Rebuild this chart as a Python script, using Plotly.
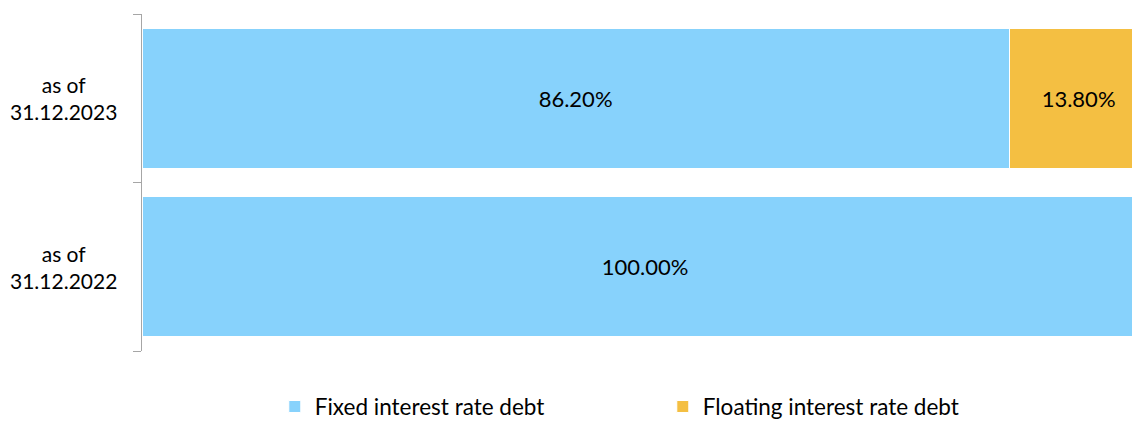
import plotly.graph_objects as go

categories = ["as of<br>31.12.2022", "as of<br>31.12.2023"]
fixed_rate = [100.0, 86.2]
floating_rate = [None, 13.8]
series_names = ["Fixed interest rate debt", "Floating interest rate debt"]
colors = ["#87D2FC", "#F4BF42"]

FONT = "Lato"

fig = go.Figure()
for name, vals, col in zip(series_names, [fixed_rate, floating_rate], colors):
    fig.add_trace(go.Bar(
        y=categories, x=vals, name=name, orientation="h",
        marker=dict(color=col, line=dict(color="white", width=1)),
        texttemplate="%{x:.2f}%", textposition="inside",
        insidetextanchor="middle",
        textfont=dict(family=FONT, size=22, color="#000000"),
        hoverinfo="skip",
    ))

for c in categories:
    fig.add_annotation(
        x=-0.0778, xref="paper", y=c, yref="y", text=c, showarrow=False,
        xanchor="center", yanchor="middle", align="center",
        font=dict(family=FONT, size=21, color="#000000"),
    )

fig.update_layout(
    width=1140, height=421,
    barmode="stack", bargap=0.167,
    margin=dict(l=134, r=0, t=6, b=78),
    paper_bgcolor="white", plot_bgcolor="white",
    font=dict(family=FONT, size=21, color="#000000"),
    showlegend=True,
    legend=dict(
        orientation="h", x=0.132, xanchor="left", y=-0.102, yanchor="top",
        entrywidth=343, entrywidthmode="pixels",
        font=dict(family=FONT, size=22.5, color="#000000"),
        itemwidth=30, traceorder="normal",
    ),
    xaxis=dict(range=[0, 100], visible=False, fixedrange=True),
    yaxis=dict(
        showline=True, linecolor="#A6A6A6", linewidth=1,
        ticks="outside", ticklen=8, tickcolor="#A6A6A6",
        tickson="boundaries", showticklabels=False, showgrid=False,
        zeroline=False,
    ),
)

fig.write_html("out.html")
